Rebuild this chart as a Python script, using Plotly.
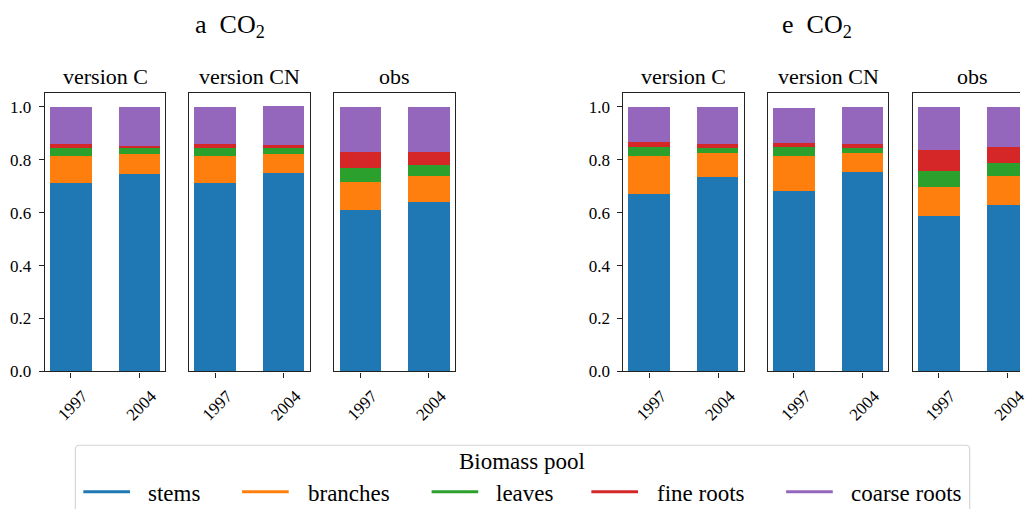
import plotly.graph_objects as go

# ---- data: fraction of total biomass per pool -------------------------------
years = ["1997", "2004"]
sources = ["version C", "version CN", "obs"]
treatments = ["a\u00a0 CO<sub>2</sub>", "e\u00a0 CO<sub>2</sub>"]

# ordered as [version C 1997, version C 2004, version CN 1997, version CN 2004, obs 1997, obs 2004]
stems_a = [0.714, 0.748, 0.711, 0.752, 0.611, 0.640]
branches_a = [0.101, 0.074, 0.104, 0.070, 0.107, 0.100]
leaves_a = [0.029, 0.022, 0.029, 0.022, 0.052, 0.041]
fine_roots_a = [0.015, 0.008, 0.015, 0.011, 0.059, 0.048]
coarse_roots_a = [0.141, 0.148, 0.141, 0.149, 0.171, 0.171]

stems_e = [0.672, 0.735, 0.683, 0.753, 0.587, 0.628]
branches_e = [0.144, 0.092, 0.133, 0.074, 0.111, 0.111]
leaves_e = [0.034, 0.019, 0.034, 0.019, 0.059, 0.048]
fine_roots_e = [0.018, 0.015, 0.014, 0.015, 0.081, 0.063]
coarse_roots_e = [0.133, 0.140, 0.134, 0.140, 0.162, 0.150]

pool_names = ["stems", "branches", "leaves", "fine roots", "coarse roots"]
pool_colors = ["#1f77b4", "#ff7f0e", "#2ca02c", "#d62728", "#9467bd"]

pools_by_treatment = [
    [stems_a, branches_a, leaves_a, fine_roots_a, coarse_roots_a],
    [stems_e, branches_e, leaves_e, fine_roots_e, coarse_roots_e],
]

# ---- layout geometry (pixels in a 1028 x 519 canvas) ------------------------
W, H = 1028, 519
FONT = "'Liberation Serif', 'Times New Roman', serif"


def fx(px):
    return px / W


def fy(py):
    return 1 - py / H


panel_px = [
    (45, 166.7), (190.7, 312.3), (336.7, 458.7),
    (628.3, 750.0), (774.0, 895.3), (919.7, 1041.5),
]
plot_top, plot_bottom = 94.7, 378.7
x_lo, x_hi = -0.38, 1.38
y_max = 1.053

fig = go.Figure()
layout_axes = {}
annotations = []

for t_idx, pools in enumerate(pools_by_treatment):
    for s_idx, source in enumerate(sources):
        k = t_idx * 3 + s_idx
        n = k + 1
        xa = "x" if n == 1 else f"x{n}"
        ya = "y" if n == 1 else f"y{n}"
        for p_idx, values in enumerate(pools):
            fig.add_trace(go.Bar(
                x=years,
                y=values[2 * s_idx: 2 * s_idx + 2],
                name=pool_names[p_idx],
                marker=dict(color=pool_colors[p_idx], line=dict(width=0)),
                width=0.6,
                xaxis=xa, yaxis=ya,
                showlegend=False,
            ))

        left, right = panel_px[k]
        vis_right = min(right, W)
        unit = (right - left) / (x_hi - x_lo)
        rng_hi = x_lo + (vis_right - left) / unit
        clipped = right > W

        xkey = "xaxis" if n == 1 else f"xaxis{n}"
        ykey = "yaxis" if n == 1 else f"yaxis{n}"
        layout_axes[xkey] = dict(
            domain=[fx(left), fx(vis_right)],
            anchor=ya,
            type="category",
            range=[x_lo, rng_hi],
            showline=True, mirror=True, linecolor="#222", linewidth=1.2,
            ticks="outside", ticklen=5, tickwidth=1.2, tickcolor="#222",
            tickangle=-45, ticklabelshift=12, ticklabelstandoff=2,
            tickfont=dict(family=FONT, size=17, color="black"),
            showgrid=False, zeroline=False, fixedrange=True,
        )
        first = s_idx == 0
        layout_axes[ykey] = dict(
            domain=[fy(plot_bottom), fy(plot_top)],
            anchor=xa,
            range=[0, y_max],
            showline=True, mirror=not clipped, linecolor="#222", linewidth=1.2,
            ticks="outside" if first else "", ticklen=5, tickwidth=1.2, tickcolor="#222",
            tickvals=[0, 0.2, 0.4, 0.6, 0.8, 1.0],
            ticktext=["0.0", "0.2", "0.4", "0.6", "0.8", "1.0"],
            showticklabels=first,
            ticklabelstandoff=4,
            tickfont=dict(family=FONT, size=17, color="black"),
            showgrid=False, zeroline=False, fixedrange=True,
        )
        # panel title
        annotations.append(dict(
            text=source, x=fx((left + right) / 2), y=fy(92.5),
            xref="paper", yref="paper", xanchor="center", yanchor="bottom",
            showarrow=False, font=dict(family=FONT, size=22, color="black"),
        ))

# treatment titles
for text, cx in zip(treatments, [231.5, 823.5]):
    annotations.append(dict(
        text=text, x=fx(cx), y=fy(44.5),
        xref="paper", yref="paper", xanchor="center", yanchor="bottom",
        showarrow=False, font=dict(family=FONT, size=26, color="black"),
    ))

# ---- legend box (runs past the bottom edge of the canvas) --------------------
shapes = []
bx0, by0, bx1, r = 76.0, 454.0, 977.3, 4.0
shapes.append(dict(type="rect", xref="paper", yref="paper",
                   x0=fx(bx0), x1=fx(bx1), y0=fy(by0 + r), y1=0,
                   line=dict(width=0), fillcolor="rgba(255,255,255,0.8)", layer="above"))
outline = (
    f"M {fx(bx0)},0 L {fx(bx0)},{fy(by0 + r)} "
    f"Q {fx(bx0)},{fy(by0)} {fx(bx0 + r)},{fy(by0)} "
    f"L {fx(bx1 - r)},{fy(by0)} Q {fx(bx1)},{fy(by0)} {fx(bx1)},{fy(by0 + r)} "
    f"L {fx(bx1)},0"
)
shapes.append(dict(type="path", path=outline, xref="paper", yref="paper",
                   line=dict(color="#d5d5d5", width=1.2), layer="above"))

annotations.append(dict(
    text="Biomass pool", x=fx(526.5), y=fy(471),
    xref="paper", yref="paper", xanchor="center", yanchor="middle",
    showarrow=False, font=dict(family=FONT, size=23, color="black"),
))

entry_line_x = [84.0, 244.0, 435.0, 596.0, 792.3]
entry_text_x = [147.3, 308.3, 498.0, 660.0, 856.0]
entry_y = 501.3
for name, color, lx, tx in zip(pool_names, pool_colors, entry_line_x, entry_text_x):
    shapes.append(dict(type="line", xref="paper", yref="paper",
                       x0=fx(lx), x1=fx(lx + 47), y0=fy(entry_y), y1=fy(entry_y),
                       line=dict(color=color, width=3), layer="above"))
    annotations.append(dict(
        text=name, x=fx(tx), y=fy(503),
        xref="paper", yref="paper", xanchor="left", yanchor="middle",
        showarrow=False, font=dict(family=FONT, size=23, color="black"),
    ))

fig.update_layout(
    width=W, height=H,
    margin=dict(l=0, r=0, t=0, b=0),
    paper_bgcolor="white", plot_bgcolor="white",
    barmode="stack", bargap=0,
    showlegend=False,
    annotations=annotations,
    shapes=shapes,
    font=dict(family=FONT, color="black"),
    **layout_axes,
)

# keep everything inside the 1028 x 519 page
clip_js = (
    "document.documentElement.style.overflow='hidden';"
    "document.body.style.margin='0';document.body.style.overflow='hidden';"
    "var gd=document.getElementById('{plot_id}');"
    "gd.style.overflow='hidden';"
    "gd.querySelectorAll('.svg-container, svg').forEach(function(e){e.style.overflow='hidden';});"
)
fig.write_html("out.html", config={"displayModeBar": False}, post_script=clip_js)
